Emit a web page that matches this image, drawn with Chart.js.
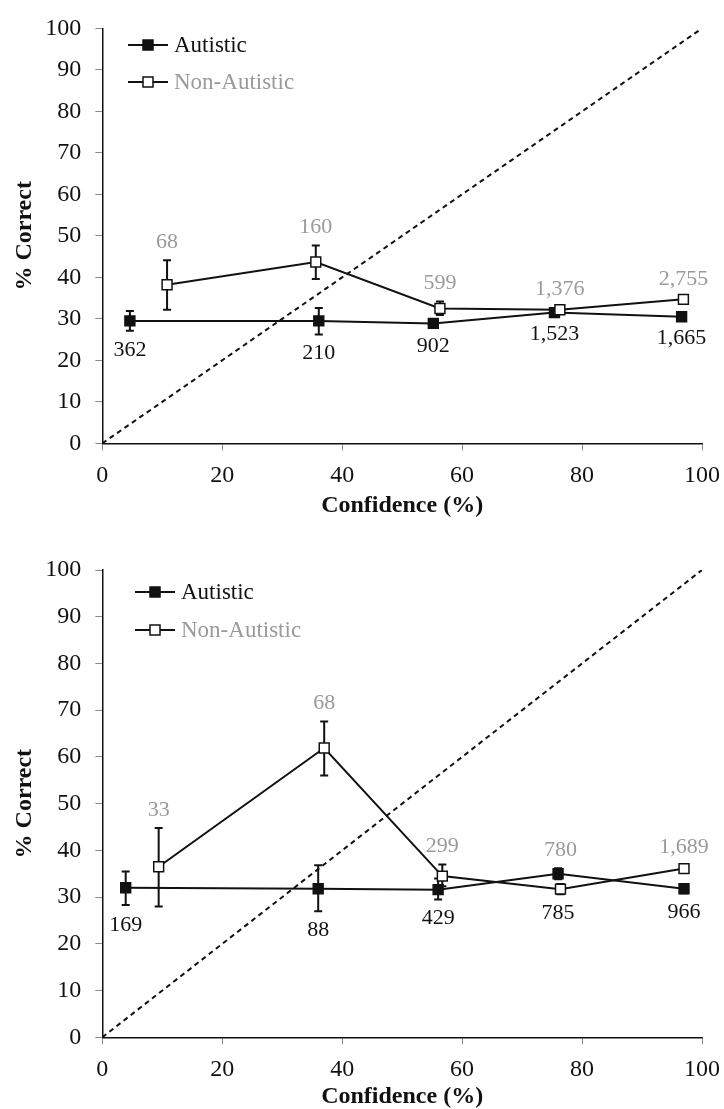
<!DOCTYPE html>
<html>
<head>
<meta charset="utf-8">
<script src="https://cdn.jsdelivr.net/npm/chart.js@4.4.1/dist/chart.umd.min.js"></script>
<style>
  html, body { margin: 0; padding: 0; background: #fff; }
  #wrap { position: relative; width: 724px; height: 1109px; }
  canvas { position: absolute; left: 0; }
</style>
</head>
<body>
<div id="wrap">
  <canvas id="top" width="724" height="525" style="top:0"></canvas>
  <canvas id="bottom" width="724" height="584" style="top:525px"></canvas>
</div>
<script>
// ---- data ----
const xTicks = [0, 20, 40, 60, 80, 100];
const diagonal = [0, 100];

// upper panel
const aAutX = [4.6, 36.1, 55.2, 75.4, 96.6];
const aAutY = [29.5, 29.5, 28.9, 31.5, 30.5];
const aAutLo = [27.1, 26.2, 27.9, 30.8, 29.8];
const aAutHi = [31.9, 32.6, 29.9, 32.2, 31.2];
const aAutN = ["362", "210", "902", "1,523", "1,665"];
const aNonX = [10.8, 35.6, 56.3, 76.3, 96.9];
const aNonY = [38.2, 43.7, 32.5, 32.2, 34.7];
const aNonLo = [32.2, 39.6, 30.9, 31.5, 34.1];
const aNonHi = [44.1, 47.7, 34.2, 32.9, 35.3];
const aNonN = ["68", "160", "599", "1,376", "2,755"];

// lower panel
const bAutX = [3.9, 36.0, 56.0, 76.0, 97.0];
const bAutY = [32.0, 31.8, 31.6, 35.0, 31.8];
const bAutLo = [28.3, 27.0, 29.5, 33.8, 30.8];
const bAutHi = [35.5, 36.8, 34.0, 36.2, 32.8];
const bAutN = ["169", "88", "429", "785", "966"];
const bNonX = [9.4, 37.0, 56.7, 76.4, 97.0];
const bNonY = [36.5, 61.9, 34.5, 31.7, 36.1];
const bNonLo = [28.0, 56.0, 32.3, 30.6, 35.4];
const bNonHi = [44.8, 67.6, 37.0, 32.8, 36.8];
const bNonN = ["33", "68", "299", "780", "1,689"];

const FONT = '"Liberation Serif", "Times New Roman", serif';
const INK = '#111';
const GREY = '#9a9a9a';

const pts = (xs, ys) => xs.map((x, i) => ({ x: x, y: ys[i] }));

// error bars + count labels
const errPlugin = {
  id: 'errbars',
  beforeDatasetsDraw(chart) {
    const { ctx, scales: { x, y } } = chart;
    ctx.save();
    ctx.strokeStyle = INK;
    ctx.lineWidth = 2;
    chart.data.datasets.forEach(ds => {
      if (!ds.lo) return;
      ds.data.forEach((p, i) => {
        const px = x.getPixelForValue(p.x);
        const y1 = y.getPixelForValue(ds.lo[i]);
        const y2 = y.getPixelForValue(ds.hi[i]);
        ctx.beginPath();
        ctx.moveTo(px, y1); ctx.lineTo(px, y2);
        ctx.moveTo(px - 4, y1); ctx.lineTo(px + 4, y1);
        ctx.moveTo(px - 4, y2); ctx.lineTo(px + 4, y2);
        ctx.stroke();
      });
    });
    ctx.restore();
  },
  afterDatasetsDraw(chart) {
    const { ctx, scales: { x, y } } = chart;
    const sets = chart.data.datasets.filter(d => d.lo);
    ctx.save();
    ctx.font = '22px ' + FONT;
    ctx.textAlign = 'center';
    ctx.textBaseline = 'middle';
    sets.forEach(ds => {
      ds.data.forEach((p, i) => {
        const px = x.getPixelForValue(p.x);
        ctx.fillStyle = ds.labelColor;
        if (ds.labelAbove) {
          const hi = Math.max(...sets.map(s => s.hi[i]));
          ctx.fillText(ds.counts[i], px, y.getPixelForValue(hi) - 18);
        } else {
          const lo = Math.min(...sets.map(s => s.lo[i]));
          ctx.fillText(ds.counts[i], px, y.getPixelForValue(lo) + 19);
        }
      });
    });
    ctx.restore();
  }
};

// in-plot legend (line + marker + label)
const legendPlugin = {
  id: 'inlegend',
  afterDraw(chart, args, opts) {
    const { ctx } = chart;
    ctx.save();
    ctx.font = '23px ' + FONT;
    ctx.textBaseline = 'middle';
    ctx.textAlign = 'left';
    opts.items.forEach((it, k) => {
      const yy = opts.y + k * opts.gap;
      ctx.strokeStyle = INK;
      ctx.lineWidth = 2;
      ctx.beginPath();
      ctx.moveTo(opts.x, yy); ctx.lineTo(opts.x + 40, yy);
      ctx.stroke();
      ctx.fillStyle = it.fill;
      ctx.fillRect(opts.x + 15, yy - 5, 10, 10);
      ctx.lineWidth = 1.5;
      ctx.strokeRect(opts.x + 15, yy - 5, 10, 10);
      ctx.fillStyle = it.color;
      ctx.fillText(it.text, opts.x + 46, yy + 1);
    });
    ctx.restore();
  }
};

function makeChart(id, cfg) {
  const ctx = document.getElementById(id).getContext('2d');
  return new Chart(ctx, {
    type: 'scatter',
    data: {
      datasets: [
        {
          label: 'Non-Autistic',
          data: pts(cfg.nonX, cfg.nonY),
          lo: cfg.nonLo, hi: cfg.nonHi, counts: cfg.nonN,
          labelColor: GREY, labelAbove: true,
          showLine: true, borderColor: INK, borderWidth: 2,
          pointStyle: 'rect', pointRadius: 7, pointBorderWidth: 1.5,
          pointBackgroundColor: '#fff', pointBorderColor: INK,
          order: 0
        },
        {
          label: 'Autistic',
          data: pts(cfg.autX, cfg.autY),
          lo: cfg.autLo, hi: cfg.autHi, counts: cfg.autN,
          labelColor: INK, labelAbove: false,
          showLine: true, borderColor: INK, borderWidth: 2,
          pointStyle: 'rect', pointRadius: 7, pointBorderWidth: 1.5,
          pointBackgroundColor: INK, pointBorderColor: INK,
          order: 1
        },
        {
          label: 'diag',
          data: pts(diagonal, diagonal),
          showLine: true, borderColor: INK, borderWidth: 2,
          borderDash: [5, 4], pointRadius: 0,
          order: 2
        }
      ]
    },
    options: {
      responsive: false,
      animation: false,
      layout: { padding: { top: cfg.padTop, right: 20, left: 0, bottom: 0 } },
      plugins: {
        legend: { display: false },
        tooltip: { enabled: false },
        inlegend: cfg.legend
      },
      scales: {
        x: {
          type: 'linear', min: 0, max: 100,
          afterBuildTicks: s => { s.ticks = xTicks.map(v => ({ value: v })); },
          afterFit: s => { s.height = cfg.xHeight; },
          grid: { drawOnChartArea: false, drawTicks: true, tickLength: 7, color: '#888' },
          border: { display: true, color: INK, width: 1.5 },
          ticks: { color: INK, padding: 4, font: { family: FONT, size: 24, lineHeight: 1.8 } },
          title: {
            display: true, text: 'Confidence (%)', color: INK,
            font: { family: FONT, size: 24, weight: 'bold', lineHeight: 1 },
            padding: { top: 0, bottom: cfg.xTitlePad }
          }
        },
        y: {
          min: 0, max: 100,
          afterFit: s => { s.width = 102.3; },
          grid: { drawOnChartArea: false, drawTicks: true, tickLength: 7, color: '#888' },
          border: { display: true, color: INK, width: 1.5 },
          ticks: { stepSize: 10, color: INK, padding: 14, font: { family: FONT, size: 24 } },
          title: {
            display: true, text: '% Correct', color: INK,
            font: { family: FONT, size: 24, weight: 'bold', lineHeight: 1 },
            padding: { top: 13, bottom: 0 }
          }
        }
      }
    },
    plugins: [errPlugin, legendPlugin]
  });
}

const legendItems = [
  { text: 'Autistic', fill: INK, color: INK },
  { text: 'Non-Autistic', fill: '#fff', color: GREY }
];

makeChart('top', {
  autX: aAutX, autY: aAutY, autLo: aAutLo, autHi: aAutHi, autN: aAutN,
  nonX: aNonX, nonY: aNonY, nonLo: aNonLo, nonHi: aNonHi, nonN: aNonN,
  padTop: 22.7, xHeight: 525 - 443.3, xTitlePad: 7,
  legend: { x: 128, y: 45, gap: 37, items: legendItems }
});

makeChart('bottom', {
  autX: bAutX, autY: bAutY, autLo: bAutLo, autHi: bAutHi, autN: bAutN,
  nonX: bNonX, nonY: bNonY, nonLo: bNonLo, nonHi: bNonHi, nonN: bNonN,
  padTop: 45, xHeight: 584 - 512.3, xTitlePad: 0,
  legend: { x: 135, y: 67, gap: 38, items: legendItems }
});
</script>
</body>
</html>
